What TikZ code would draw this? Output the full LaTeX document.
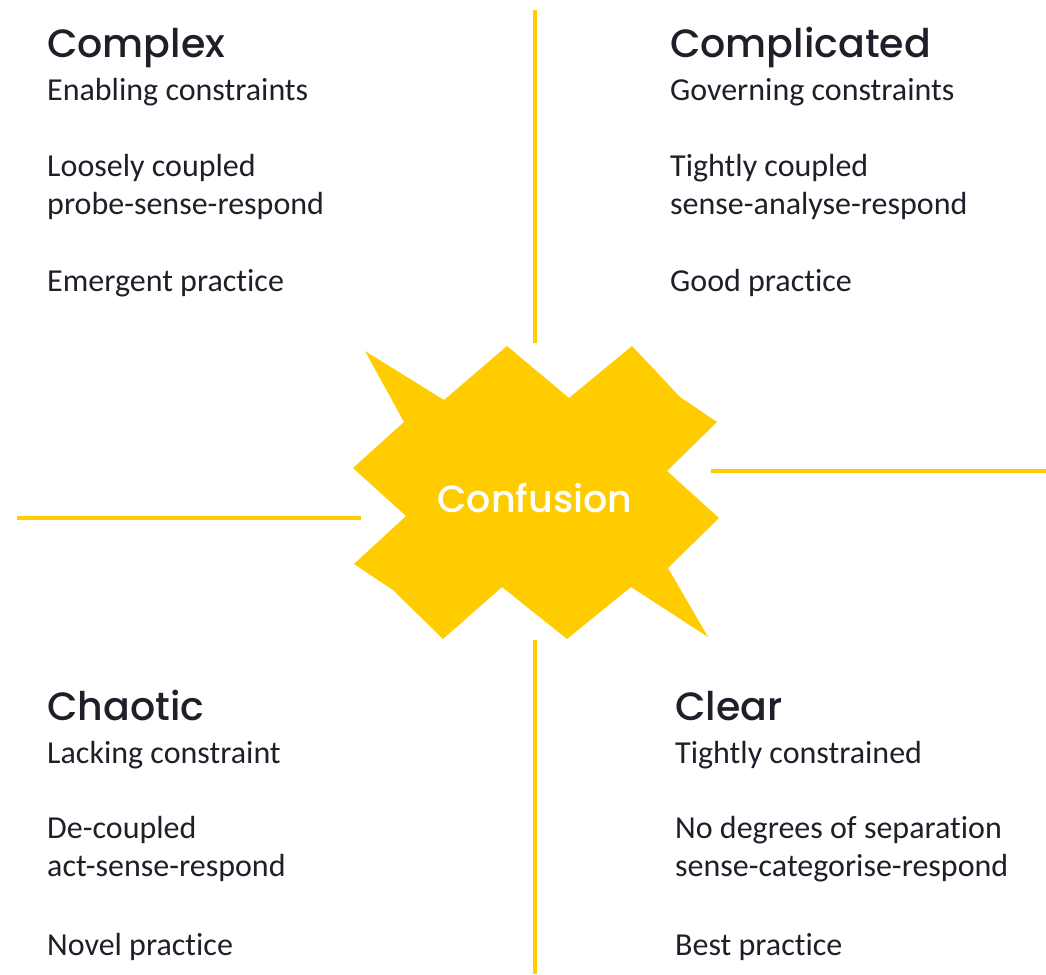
\documentclass[tikz,border=0pt]{standalone}
\usepackage{fontspec}
\setmainfont{Carlito}[Ligatures=CommonOff]
\newfontfamily\headfont{Poppins Medium}
\usepackage{xcolor}

\definecolor{gold}{HTML}{FFCC00}
\definecolor{ink}{HTML}{1F1F2A}

\begin{document}
\begin{tikzpicture}
    [x=1pt, y=-1pt,
    title/.style={anchor=base west, inner sep=0pt, text=ink, font=\headfont\fontsize{39.5}{44}\selectfont},
    body/.style={anchor=base west, inner sep=0pt, text=ink, font=\fontsize{32}{38}\selectfont},
    rule/.style={draw=gold, line width=4pt},
    burst/.style={fill=gold}]
    \useasboundingbox (0,0) rectangle (1046,974);

    % the four dividers
    \coordinate (north a) at (535,10);
    \coordinate (north b) at (535,343);
    \coordinate (south a) at (535,640);
    \coordinate (south b) at (535,974);
    \coordinate (west a) at (17,518);
    \coordinate (west b) at (361,518);
    \coordinate (east a) at (711,471);
    \coordinate (east b) at (1046,471);
    \draw[rule] (north a) -- (north b);
    \draw[rule] (south a) -- (south b);
    \draw[rule] (west a) -- (west b);
    \draw[rule] (east a) -- (east b);

    % centre
    \fill[burst] (365,351) -- (444,400) -- (507,346) -- (569,398) -- (632,346)
        -- (680,397) -- (717,422) -- (667,471) -- (719,518) -- (668,568)
        -- (708,637) -- (631,587) -- (567,639) -- (502,587) -- (443,639)
        -- (393,590) -- (354,564) -- (406,516) -- (353,468) -- (404,422) -- cycle;
    \node[inner sep=0pt, anchor=base, text=white, font=\headfont\fontsize{38}{44}\selectfont] (confusion) at (535,512) {Confusion};

    % top left
    \node[title] (complex) at (47,57) {Complex};
    \node[body] (complex 1) at (47,100) {Enabling constraints};
    \node[body] (complex 2) at (47,176) {Loosely coupled};
    \node[body] (complex 3) at (47,214) {probe-sense-respond};
    \node[body] (complex 4) at (47,291) {Emergent practice};

    % top right
    \node[title] (complicated) at (670,57) {Complicated};
    \node[body] (complicated 1) at (670,100) {Governing constraints};
    \node[body] (complicated 2) at (670,176) {Tightly coupled};
    \node[body] (complicated 3) at (670,214) {sense-analyse-respond};
    \node[body] (complicated 4) at (670,291) {Good practice};

    % bottom left
    \node[title] (chaotic) at (47,720) {Chaotic};
    \node[body] (chaotic 1) at (47,763) {Lacking constraint};
    \node[body] (chaotic 2) at (47,838) {De-coupled};
    \node[body] (chaotic 3) at (47,876) {act-sense-respond};
    \node[body] (chaotic 4) at (47,955) {Novel practice};

    % bottom right
    \node[title] (clear) at (675,720) {Clear};
    \node[body] (clear 1) at (675,763) {Tightly constrained};
    \node[body] (clear 2) at (675,838) {No degrees of separation};
    \node[body] (clear 3) at (675,876) {sense-categorise-respond};
    \node[body] (clear 4) at (675,955) {Best practice};
\end{tikzpicture}
\end{document}
